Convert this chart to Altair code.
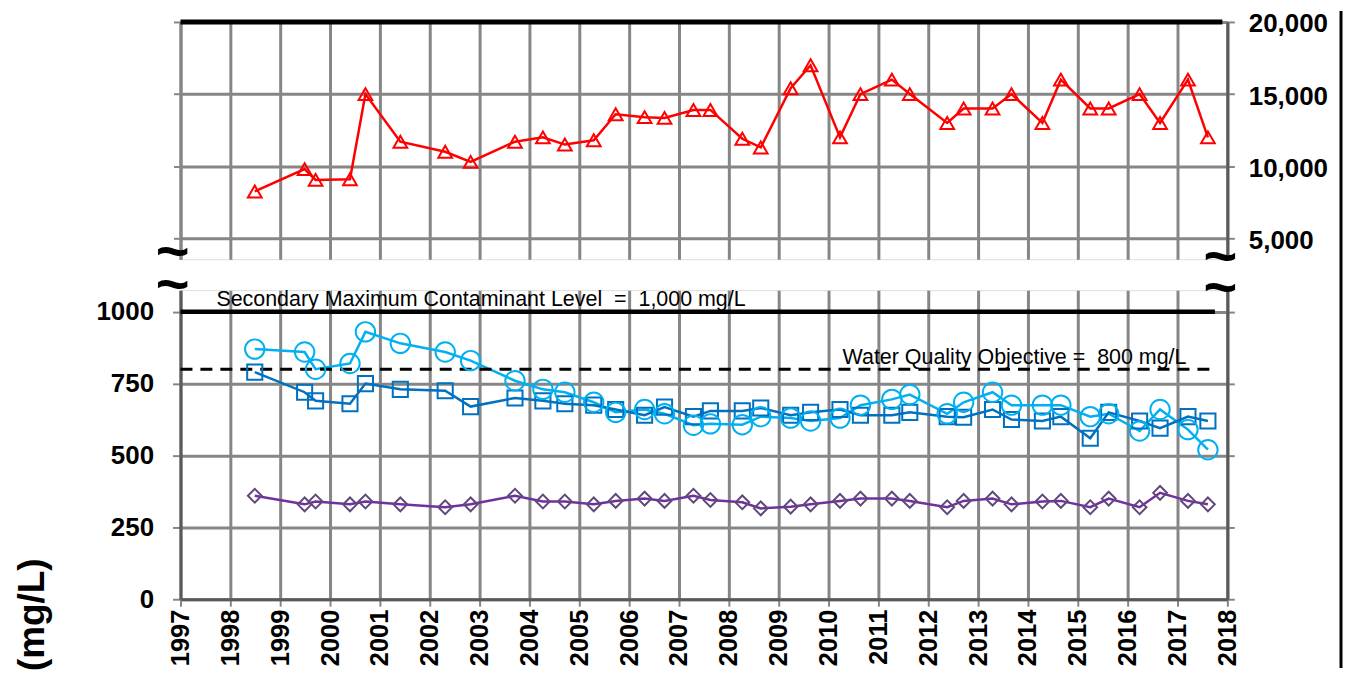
import altair as alt
import pandas as pd

# ---------------- data ----------------
sample_years = [1998.49, 1999.49, 1999.71, 2000.40, 2000.71, 2001.41, 2002.31, 2002.82,
                2003.71, 2004.27, 2004.71, 2005.29, 2005.73, 2006.31, 2006.71, 2007.29,
                2007.63, 2008.27, 2008.64, 2009.24, 2009.64, 2010.23, 2010.64, 2011.27,
                2011.63, 2012.38, 2012.71, 2013.29, 2013.67, 2014.29, 2014.66, 2015.25,
                2015.62, 2016.24, 2016.65, 2017.21, 2017.61]
tds_red = [8250, 9800, 9050, 9100, 15000, 11700, 11000, 10300, 11700, 12000, 11500, 11800,
           13600, 13400, 13350, 13900, 13900, 11900, 11300, 15400, 17000, 12000, 15000, 16000,
           15000, 13000, 14000, 14000, 15000, 13000, 16000, 14000, 14000, 15000, 13000, 16000, 12000]
circles = [870, 860, 800, 820, 930, 890, 860, 830, 760, 730, 720, 685,
           650, 660, 645, 605, 610, 607, 635, 630, 620, 630, 675, 695,
           712, 645, 685, 720, 675, 675, 675, 635, 645, 585, 660, 590, 520]
squares = [790, 720, 690, 680, 750, 730, 725, 670, 700, 690, 680, 675,
           660, 640, 668, 635, 655, 655, 665, 640, 650, 660, 640, 640,
           650, 635, 633, 660, 625, 620, 635, 560, 650, 620, 595, 635, 620]
diamonds = [360, 330, 340, 330, 340, 330, 320, 330, 360, 340, 340, 330,
            342, 350, 342, 360, 345, 337, 316, 322, 330, 342, 350, 350,
            342, 320, 342, 350, 330, 340, 342, 320, 350, 320, 370, 342, 330]

year_ticks = list(range(1997, 2019))
top_ticks = [5000, 10000, 15000, 20000]
bottom_ticks = [0, 250, 500, 750, 1000]

smcl_value = 1000
wqo_value = 800
smcl_label = "Secondary Maximum Contaminant Level\u00a0 =\u00a0 1,000 mg/L"
wqo_label = "Water Quality Objective =\u00a0 800 mg/L"
y_title = "(mg/L)"

# ---------------- styling ----------------
FONT = "Liberation Sans"
GRID = "#868686"
DARK = "#5a5a5a"
RED = "#FF0000"
LIGHTBLUE = "#00B0F0"
BLUE = "#0070C0"
PURPLE = "#7030A0"
PURPLE_MK = "#60497A"
W, H_TOP, H_BOT = 1050, 238, 310

x_scale = alt.Scale(domain=[1997, 2018], nice=False, zero=False)
top_y_scale = alt.Scale(domain=[3550, 20000], nice=False, zero=False)
bot_y_scale = alt.Scale(domain=[0, 1075], nice=False, zero=False)

top_df = pd.DataFrame({"year": sample_years, "value": tds_red})
bot_df = pd.DataFrame({"year": sample_years, "circle": circles,
                       "square": squares, "diamond": diamonds})
one = pd.DataFrame({"k": [0]})

TOP_X_AXIS = alt.Axis(values=year_ticks, orient="bottom", labels=False, ticks=False,
                      domain=False, grid=True, gridColor=GRID, gridWidth=3, title=None)
BOT_X_AXIS = alt.Axis(values=year_ticks, orient="bottom", format="d", labelAngle=-90,
                      labelFont=FONT, labelFontSize=25.5, labelFontWeight="bold",
                      labelColor="black", labelPadding=3, labelFlush=False, labelOverlap=False,
                      tickSize=7, tickWidth=2, tickColor=GRID,
                      domainColor=DARK, domainWidth=3,
                      grid=True, gridColor=GRID, gridWidth=3, title=None)


def tx(field):
    return alt.X(field, scale=x_scale, axis=TOP_X_AXIS)


def bx(field):
    return alt.X(field, scale=x_scale, axis=BOT_X_AXIS)


def squiggle(px, py):
    return alt.Chart(one).mark_text(text="~", fontSize=58, fontWeight="bold", font=FONT,
                                    color="black", baseline="middle", align="center").encode(
        x=alt.value(px), y=alt.value(py))


# ---------------- top panel ----------------
top_y_right = alt.Y("value:Q", scale=top_y_scale,
                    axis=alt.Axis(orient="right", values=top_ticks,
                                  labelExpr="format(datum.value, ',')", grid=True,
                                  gridColor=GRID, gridWidth=3, labelFont=FONT, labelFontSize=26,
                                  labelFontWeight="bold", labelColor="black", labelPadding=14,
                                  labelOffset=2,
                                  tickSize=7, tickWidth=2, tickColor=GRID,
                                  domainColor=DARK, domainWidth=3, title=None))
top_y_left = alt.Y("value:Q", scale=top_y_scale,
                   axis=alt.Axis(orient="left", values=top_ticks, labels=False, grid=False,
                                 tickSize=7, tickWidth=2, tickColor=GRID,
                                 domainColor=GRID, domainWidth=3, title=None))

top_line = alt.Chart(top_df).mark_line(color=RED, strokeWidth=2.5).encode(
    x=tx("year:Q"), y=top_y_right)
top_pts = alt.Chart(top_df).mark_point(
    shape="triangle-up", filled=False, color=RED, size=190, strokeWidth=2, opacity=1
).encode(x=tx("year:Q"), y=top_y_left)

top_border_df = pd.DataFrame({"year": [1997], "year_end": [2017.9], "value": [20000]})
top_border = alt.Chart(top_border_df).mark_rule(color="black", strokeWidth=5).encode(
    x=tx("year:Q"), x2="year_end:Q",
    y=alt.Y("value:Q", scale=top_y_scale, axis=None))

edge = alt.Chart(one).mark_rule(color="black", strokeWidth=3).encode(
    x=alt.value(1164), y=alt.value(-11), y2=alt.value(648))

top = alt.layer(top_line, top_pts, top_border, squiggle(-8, 233), squiggle(1043, 238),
                edge).resolve_axis(y="independent").properties(width=W, height=H_TOP)

# ---------------- bottom panel ----------------
bot_y_left = alt.Y("circle:Q", scale=bot_y_scale,
                   axis=alt.Axis(orient="left", values=bottom_ticks, format="d", grid=True,
                                 gridColor=GRID, gridWidth=3, labelFont=FONT, labelFontSize=26,
                                 labelFontWeight="bold", labelColor="black", labelPadding=19,
                                 tickSize=8, tickWidth=2, tickColor=GRID,
                                 domainColor=DARK, domainWidth=3,
                                 title=y_title, titleFont=FONT, titleFontSize=37,
                                 titleFontWeight="bold", titleColor="black", titleAngle=270,
                                 titleX=-148, titleY=325, titleAlign="center",
                                 titleBaseline="middle"))
bot_y_right = alt.Y("square:Q", scale=bot_y_scale,
                    axis=alt.Axis(orient="right", values=bottom_ticks, labels=False, grid=False,
                                  tickSize=7, tickWidth=2, tickColor=GRID,
                                  domainColor=DARK, domainWidth=3, title=None))

ref_df = pd.DataFrame({"year": [1997], "year_end": [2017.75],
                       "smcl": [smcl_value], "wqo": [wqo_value]})
smcl_rule = alt.Chart(ref_df).mark_rule(color="black", strokeWidth=4.5).encode(
    x=bx("year:Q"), x2="year_end:Q",
    y=alt.Y("smcl:Q", scale=bot_y_scale, axis=None))
wqo_rule = alt.Chart(ref_df).mark_rule(color="black", strokeWidth=3, strokeDash=[12, 8]).encode(
    x=bx("year:Q"), x2="year_end:Q",
    y=alt.Y("wqo:Q", scale=bot_y_scale, axis=None))

smcl_df = pd.DataFrame({"year": [1997.72], "y": [smcl_value], "t": [smcl_label]})
wqo_df = pd.DataFrame({"year": [2017.18], "y": [wqo_value], "t": [wqo_label]})
smcl_text = alt.Chart(smcl_df).mark_text(
    font=FONT, fontSize=21.5, color="black", align="left", baseline="alphabetic", dy=-6
).encode(x=bx("year:Q"), y=alt.Y("y:Q", scale=bot_y_scale, axis=None), text="t:N")
wqo_text = alt.Chart(wqo_df).mark_text(
    font=FONT, fontSize=21.5, color="black", align="right", baseline="alphabetic", dy=-5
).encode(x=bx("year:Q"), y=alt.Y("y:Q", scale=bot_y_scale, axis=None), text="t:N")

circ_line = alt.Chart(bot_df).mark_line(color=LIGHTBLUE, strokeWidth=2.5).encode(
    x=bx("year:Q"), y=bot_y_left)
circ_pts = alt.Chart(bot_df).mark_point(shape="circle", filled=False, color=LIGHTBLUE,
                                        size=380, strokeWidth=2, opacity=1).encode(
    x=bx("year:Q"), y=alt.Y("circle:Q", scale=bot_y_scale, axis=None))
sq_line = alt.Chart(bot_df).mark_line(color=BLUE, strokeWidth=2.5).encode(
    x=bx("year:Q"), y=bot_y_right)
sq_pts = alt.Chart(bot_df).mark_point(shape="square", filled=False, color=BLUE,
                                      size=230, strokeWidth=2, opacity=1).encode(
    x=bx("year:Q"), y=alt.Y("square:Q", scale=bot_y_scale, axis=None))
dia_line = alt.Chart(bot_df).mark_line(color=PURPLE, strokeWidth=2.5).encode(
    x=bx("year:Q"), y=alt.Y("diamond:Q", scale=bot_y_scale, axis=None))
dia_pts = alt.Chart(bot_df).mark_point(shape="diamond", filled=False, color=PURPLE_MK,
                                       size=190, strokeWidth=2, opacity=1).encode(
    x=bx("year:Q"), y=alt.Y("diamond:Q", scale=bot_y_scale, axis=None))

bottom = alt.layer(
    circ_line, sq_line, smcl_rule, wqo_rule, smcl_text, wqo_text,
    dia_line, dia_pts, sq_pts, circ_pts, squiggle(-8, -3), squiggle(1043, 0)
).resolve_axis(y="independent").properties(width=W, height=H_BOT)

chart = alt.vconcat(top, bottom, spacing=31, bounds="flush").properties(
    padding={"left": 5, "top": 0, "right": 0, "bottom": 0}
).configure_view(stroke=None).configure(font=FONT)

chart.save("out.html", embed_options={"renderer": "svg", "actions": False})
